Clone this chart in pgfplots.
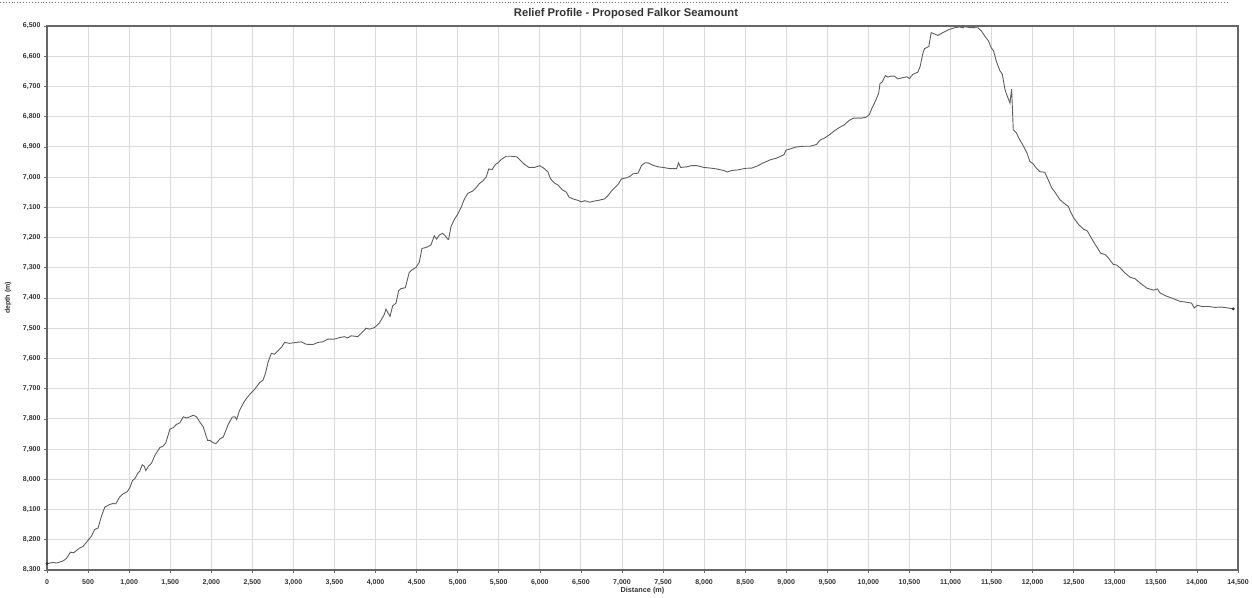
\documentclass[border=0pt]{standalone}
\usepackage{fontspec}
\setmainfont{Liberation Sans}
\usepackage{pgfplots}
\pgfplotsset{compat=1.18}
\definecolor{txt}{HTML}{333333}
\definecolor{gridc}{HTML}{DADADA}
\definecolor{axc}{HTML}{666666}
\definecolor{linec}{HTML}{5E5E5E}
\begin{document}
\begin{tikzpicture}
\useasboundingbox (-47pt,-27pt) rectangle (1205pt,570pt);
\draw[black!55, dotted, line width=0.9pt] (-47pt,568pt) -- (1180pt,568pt);
\node[font=\fontsize{11.2}{13}\selectfont\bfseries, text=txt] at (579pt,556pt) {Relief Profile - Proposed Falkor Seamount};
\begin{axis}[
  at={(0pt,0pt)}, anchor=south west,
  scale only axis, width=1191pt, height=544pt,
  xmin=0, xmax=14500, ymin=6500, ymax=8300,
  y dir=reverse,
  xtick={0,500,...,14500},
  ytick={6500,6600,...,8300},
  scaled ticks=false,
  grid=major,
  major grid style={gridc, line width=0.9pt},
  axis line style={axc, line width=1.1pt},
  tick align=outside,
  major tick length=3pt,
  tick style={axc, line width=0.6pt},
  xtick pos=bottom, ytick pos=left,
  /pgf/number format/assume math mode=true,
  /pgf/number format/1000 sep={,},
  ticklabel style={font=\fontsize{7}{8}\selectfont\bfseries, text=txt},
  xticklabel style={yshift=-3pt},
  xlabel={Distance (m)},
  ylabel={depth (m)},
  xlabel style={font=\fontsize{7.3}{8}\selectfont\bfseries, text=txt, at={(axis description cs:0.5,-0.0386)}, anchor=center},
  ylabel style={font=\fontsize{7}{8}\selectfont\bfseries, text=txt, at={(axis description cs:-0.0327,0.5)}, anchor=center},
  clip=false,
]
\addplot[linec, line width=0.9pt] table {
x y
0 8279
73 8275
120 8277
195 8270
236 8262
285 8241
325 8243
398 8227
439 8222
500 8202
541 8188
581 8166
622 8161
663 8122
703 8092
764 8083
805 8080
837 8081
886 8058
927 8048
976 8041
1008 8028
1041 8004
1069 7998
1110 7978
1130 7973
1159 7952
1183 7956
1203 7971
1236 7956
1272 7947
1313 7921
1374 7895
1415 7890
1447 7879
1496 7834
1537 7829
1577 7818
1618 7813
1659 7793
1699 7797
1740 7793
1781 7788
1821 7793
1854 7808
1902 7826
1955 7871
1984 7871
2024 7879
2057 7882
2106 7866
2146 7860
2207 7818
2256 7794
2289 7793
2309 7802
2341 7774
2390 7748
2427 7733
2468 7719
2528 7702
2589 7680
2630 7672
2662 7647
2690 7614
2731 7583
2771 7586
2812 7575
2852 7564
2893 7547
2953 7550
3034 7547
3095 7545
3156 7553
3237 7554
3298 7547
3358 7545
3419 7536
3500 7536
3561 7531
3621 7528
3662 7532
3702 7525
3783 7528
3844 7512
3885 7500
3925 7503
3986 7498
4046 7483
4107 7454
4127 7437
4176 7461
4208 7426
4249 7417
4281 7376
4309 7369
4362 7366
4411 7315
4443 7307
4492 7299
4532 7282
4565 7236
4613 7233
4674 7225
4715 7194
4743 7205
4775 7192
4816 7186
4848 7194
4877 7205
4890 7206
4918 7164
4959 7140
5000 7123
5041 7101
5081 7073
5122 7054
5183 7046
5224 7035
5265 7021
5305 7013
5346 7000
5379 6973
5419 6975
5460 6958
5488 6953
5529 6942
5590 6931
5651 6931
5720 6933
5773 6947
5814 6958
5867 6968
5936 6968
5997 6962
6046 6970
6099 6983
6131 7006
6180 7020
6221 7026
6274 7042
6323 7050
6355 7066
6404 7072
6465 7077
6506 7082
6546 7078
6607 7083
6668 7079
6729 7076
6790 7072
6831 7061
6872 7046
6912 7035
6953 7024
6993 7006
7046 7003
7095 6998
7135 6989
7196 6987
7237 6962
7278 6953
7319 6953
7380 6961
7441 6966
7502 6968
7583 6972
7665 6972
7689 6953
7714 6968
7787 6966
7848 6962
7911 6962
8000 6968
8073 6970
8154 6973
8235 6978
8284 6983
8337 6978
8418 6976
8500 6971
8581 6970
8641 6964
8722 6953
8803 6943
8884 6937
8972 6926
8997 6911
9045 6907
9126 6900
9207 6898
9288 6898
9369 6892
9410 6878
9471 6870
9531 6859
9585 6847
9646 6836
9707 6827
9768 6812
9817 6805
9910 6805
9971 6802
10012 6793
10045 6771
10085 6749
10126 6722
10142 6690
10167 6686
10207 6664
10236 6669
10276 6666
10317 6666
10358 6675
10419 6671
10468 6668
10500 6674
10541 6660
10602 6653
10631 6633
10663 6591
10683 6575
10736 6568
10765 6522
10793 6525
10846 6531
10927 6519
10988 6511
11049 6506
11110 6503
11151 6506
11171 6502
11232 6505
11334 6506
11374 6516
11427 6537
11464 6550
11496 6572
11525 6583
11557 6616
11598 6646
11631 6660
11663 6710
11692 6733
11724 6755
11744 6709
11764 6843
11802 6854
11842 6876
11883 6895
11932 6921
11965 6948
12006 6956
12047 6971
12087 6982
12148 6984
12191 7010
12231 7035
12272 7050
12333 7075
12394 7089
12435 7097
12455 7111
12495 7133
12556 7156
12617 7172
12666 7178
12698 7194
12759 7222
12800 7239
12828 7252
12881 7256
12921 7267
12982 7289
13023 7291
13063 7300
13124 7317
13185 7331
13246 7336
13307 7350
13388 7367
13469 7374
13518 7370
13550 7383
13631 7394
13712 7402
13793 7411
13874 7414
13935 7417
13968 7433
14004 7424
14057 7428
14138 7428
14219 7431
14300 7430
14381 7433
14442 7436
};
\addplot[only marks, mark=*, mark size=1.3pt, black!80] coordinates {(0,8279) (14442,7436)};
\end{axis}
\end{tikzpicture}
\end{document}
